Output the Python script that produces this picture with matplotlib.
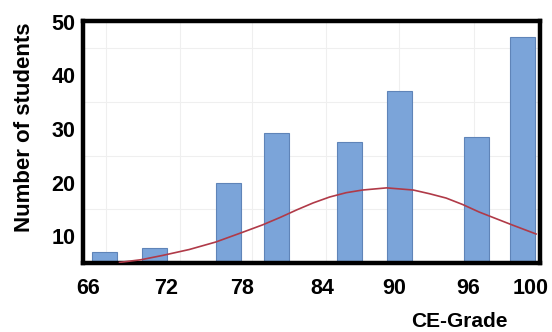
import matplotlib
matplotlib.use("Agg")
import matplotlib.pyplot as plt

# ---- data ----
grade_bins = [67.3, 71.3, 77.1, 80.9, 86.7, 90.6, 96.7, 100.3]
students = [7.1, 7.7, 19.9, 29.2, 27.6, 37.1, 28.5, 47.2]

curve_x = [68.5, 70.2, 71.9, 74.0, 76.1, 78.2, 79.8, 81.2, 82.5, 83.8,
           85.1, 86.4, 87.7, 89.6, 91.7, 93.0, 94.3, 95.6, 96.9, 98.2,
           99.5, 101.4]
curve_y = [5.1, 5.6, 6.4, 7.5, 8.9, 10.7, 12.1, 13.5, 14.9, 16.2,
           17.3, 18.1, 18.6, 19.0, 18.6, 17.9, 17.1, 15.9, 14.5, 13.3,
           12.1, 10.4]

x_tick_labels = ["66", "72", "78", "84", "90", "96", "100"]
y_ticks = [10, 20, 30, 40, 50]

# ---- layout / style ----
x_tick_pos = [66, 72.2, 78.2, 84.5, 90.2, 96, 101]
x_grid_pos = [67.4, 73.3, 79.0, 84.8, 90.6, 96.5]
y_grid_pos = [15, 25, 35, 45]

plt.rcParams['font.family'] = ['Liberation Sans', 'DejaVu Sans']

fig = plt.figure(figsize=(5.52, 3.32), dpi=100)
ax = fig.add_axes([0.150, 0.208, 0.828, 0.730])

for gx in x_grid_pos:
    ax.axvline(gx, color="#efefef", lw=0.8, zorder=0)
for gy in y_grid_pos:
    ax.axhline(gy, color="#efefef", lw=0.8, zorder=0)

ax.bar(grade_bins, students, width=1.97, bottom=0, color="#7ba4d9",
       edgecolor="#5f84b8", linewidth=0.8, zorder=2)
ax.plot(curve_x, curve_y, color="#b03a48", lw=1.2, zorder=3)

ax.set_xlim(65.6, 101.7)
ax.set_ylim(5, 50.2)

ax.set_xticks(x_tick_pos)
ax.set_xticklabels(x_tick_labels)
ax.set_yticks(y_ticks)
ax.tick_params(axis="both", length=0, labelsize=15.5)
ax.tick_params(axis="x", pad=10.5)
ax.tick_params(axis="y", pad=5.5)
for lab in ax.get_xticklabels() + ax.get_yticklabels():
    lab.set_fontweight("bold")

for sp in ax.spines.values():
    sp.set_linewidth(3.2)
    sp.set_color("black")

fig.text(0.045, 0.617, "Number of students", rotation=90, ha="center",
         va="center", fontsize=16, fontweight="bold")
fig.text(0.833, 0.032, "CE-Grade", ha="center", va="center",
         fontsize=15, fontweight="bold")

fig.savefig("out.png", dpi=100)
